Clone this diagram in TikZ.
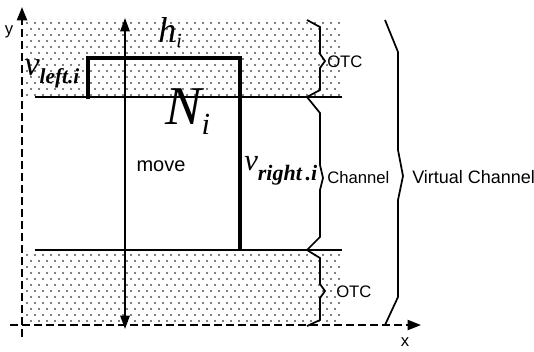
\documentclass[tikz,border=0pt]{standalone}
\usepackage{fontspec}
\setmainfont{Liberation Serif}
\setsansfont{Liberation Sans}
\usetikzlibrary{arrows.meta}
\begin{document}
\begin{tikzpicture}[x=0.75pt,y=-0.75pt,
  axis/.style={dashed, dash pattern=on 6pt off 3pt, line width=1.5pt},
  thin line/.style={line width=1.3pt},
  thick path/.style={line width=3.4pt},
  brace/.style={line width=1.3pt, line join=miter},
  sanslabel/.style={font=\sffamily\fontsize{12.5}{12.5}\selectfont, inner sep=0pt},
  mathlabel/.style={inner sep=0pt, anchor=base west},
  dot/.style={fill=black}]
\useasboundingbox (0,0) rectangle (534,351);
% dotted regions
\begin{scope}
\clip (25,20) rectangle (342,97);
\foreach \r in {0,...,13} {
  \pgfmathsetmacro{\off}{4*mod(\r,2)}
  \foreach \c in {0,...,40} {
    \fill[dot] (27+8*\c+\off, 23+6*\r) circle (0.7pt);
  }
}
\end{scope}
\begin{scope}
\clip (25,250) rectangle (342,325);
\foreach \r in {0,...,13} {
  \pgfmathsetmacro{\off}{4*mod(\r,2)}
  \foreach \c in {0,...,40} {
    \fill[dot] (27+8*\c+\off, 255+6*\r) circle (0.7pt);
  }
}
\end{scope}
% channel boundary lines
\coordinate (tl) at (35,97);  \coordinate (tr) at (342,97);
\coordinate (bl) at (35,250); \coordinate (br) at (342,250);
\draw[thin line] (tl) -- (tr);
\draw[thin line] (bl) -- (br);
% axes
\coordinate (o) at (22,325);
\coordinate (ybot) at (22,337);
\coordinate (ytop) at (22,7);
\coordinate (xleft) at (10,325);
\coordinate (xright) at (421,325);
\draw[axis, -{Triangle[length=10pt,width=7.5pt]}] (ybot) -- (ytop);
\draw[axis, -{Triangle[length=10pt,width=7.5pt]}] (xleft) -- (xright);
\node[sanslabel] (ylab) at (9,32) {y};
\node[sanslabel] (xlab) at (405,342) {x};
% move arrow
\coordinate (mtop) at (125,18);
\coordinate (mbot) at (125,329);
\draw[thin line, {Triangle[length=10pt,width=7pt]}-{Triangle[length=10pt,width=7pt]}] (mbot) -- (mtop);
\node[font=\sffamily\fontsize{15}{15}\selectfont, inner sep=0pt] (move) at (161,166) {move};
% thick path of net
\coordinate (p1) at (88,99);
\coordinate (p2) at (88,58);
\coordinate (p3) at (240,58);
\coordinate (p4) at (240,250);
\draw[thick path, line join=miter] (p1) -- (p2) -- (p3) -- (p4);
% labels
\node[mathlabel] (hi) at (158,42) {{\fontsize{27}{27}\selectfont\itshape h}\raisebox{-4pt}{\fontsize{15}{15}\selectfont\itshape i}};
\node[mathlabel] (Ni) at (165,124) {{\fontsize{41}{41}\selectfont\itshape N}\raisebox{-7.5pt}{\fontsize{23}{23}\selectfont\itshape i}};
\node[mathlabel] (vl) at (24,75) {{\fontsize{26}{26}\selectfont\itshape v}\raisebox{-6.5pt}{\fontsize{16}{16}\selectfont\bfseries\itshape left.i}};
\node[mathlabel] (vr) at (244,170) {{\fontsize{23}{23}\selectfont\itshape v}\raisebox{-8pt}{\fontsize{16.5}{16.5}\selectfont\bfseries\itshape right\,.i}};
% braces
\draw[brace] (307,20) -- (320,27) -- (320,54) -- (325,61) -- (320,68) -- (320,90) -- (307,97);
\node[sanslabel, anchor=west] (otc1) at (327,62) {OTC};
\draw[brace] (307,97) -- (320,113) -- (320,165) -- (323,178) -- (320,190) -- (320,237) -- (307,250);
\node[sanslabel, anchor=west] (chan) at (327,178) {Channel};
\draw[brace] (307,250) -- (320,258) -- (320,284) -- (325,291) -- (320,298) -- (320,320) -- (307,326);
\node[sanslabel, anchor=west] (otc2) at (336,292) {OTC};
\draw[brace] (385,20) -- (398,52) -- (398,150) -- (403,176) -- (398,200) -- (398,297) -- (385,325);
\node[sanslabel, anchor=west, font=\sffamily\fontsize{13.5}{13.5}\selectfont] (vc) at (412,177) {Virtual Channel};
\end{tikzpicture}
\end{document}
